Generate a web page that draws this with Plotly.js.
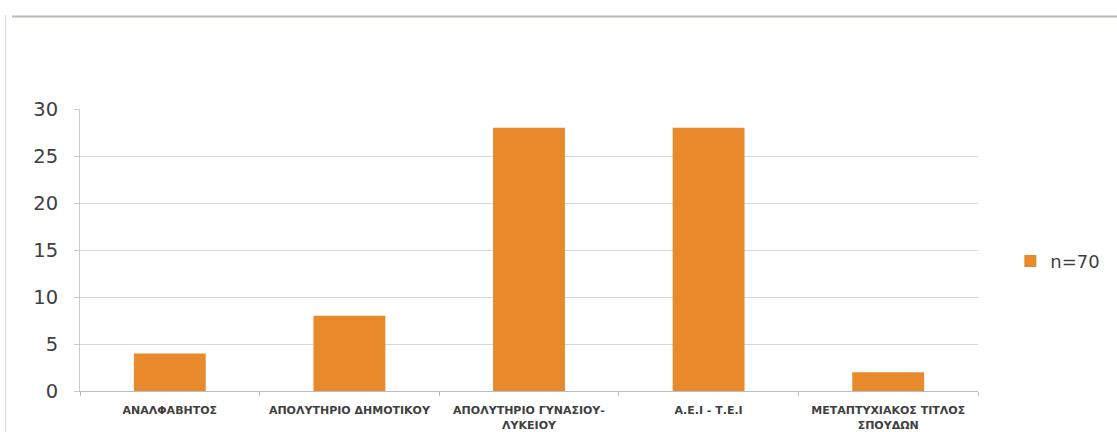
<!DOCTYPE html>
<html>
<head>
<meta charset="utf-8">
<script src="https://cdn.plot.ly/plotly-3.0.1.min.js"></script>
<style>
  html, body { margin: 0; padding: 0; background: #ffffff; }
  #chart { width: 1117px; height: 432px; }
</style>
</head>
<body>
<div id="chart"></div>
<script>
// Education level of respondents (n=70)
const categories = [
  "ΑΝΑΛΦΑΒΗΤΟΣ",
  "ΑΠΟΛΥΤΗΡΙΟ ΔΗΜΟΤΙΚΟΥ",
  "ΑΠΟΛΥΤΗΡΙΟ ΓΥΝΑΣΙΟΥ-<br>ΛΥΚΕΙΟΥ",
  "Α.Ε.Ι - Τ.Ε.Ι",
  "ΜΕΤΑΠΤΥΧΙΑΚΟΣ ΤΙΤΛΟΣ<br>ΣΠΟΥΔΩΝ"
];
const counts = [4, 8, 28, 28, 2];
const seriesName = "n=70";
const yTicks = [0, 5, 10, 15, 20, 25, 30];

const trace = {
  type: "bar",
  x: categories,
  y: counts,
  name: seriesName,
  marker: { color: "#E8892B" },
  width: 0.4,
  showlegend: true,
  hoverinfo: "x+y"
};

const layout = {
  width: 1117,
  height: 432,
  margin: { l: 80, r: 139, t: 109, b: 41, pad: 0 },
  paper_bgcolor: "#ffffff",
  plot_bgcolor: "#ffffff",
  font: { family: "DejaVu Sans, sans-serif", color: "#404040" },
  showlegend: true,
  legend: {
    x: 1.036, xanchor: "left",
    y: 0.46, yanchor: "middle",
    font: { size: 18, color: "#404040", family: "DejaVu Sans, sans-serif" },
    itemwidth: 30
  },
  xaxis: {
    type: "category",
    automargin: false,
    showline: true,
    linecolor: "#b8bcc4",
    linewidth: 1,
    ticks: "outside",
    tickson: "boundaries",
    ticklen: 4,
    tickcolor: "#b8bcc4",
    showgrid: false,
    tickfont: { size: 11, family: "DejaVu Sans, sans-serif", color: "#404040", weight: "bold" },
    tickangle: 0,
    ticklabelstandoff: 9
  },
  yaxis: {
    range: [0, 30],
    tickvals: yTicks,
    automargin: false,
    showline: true,
    linecolor: "#c8ccd2",
    linewidth: 1,
    ticks: "outside",
    ticklen: 5,
    tickcolor: "#c8ccd2",
    showgrid: true,
    gridcolor: "#d4d7dc",
    gridwidth: 1,
    zeroline: false,
    tickfont: { size: 19.5, family: "DejaVu Sans, sans-serif", color: "#404040" },
    ticklabelstandoff: 12
  },
  shapes: [
    // outer frame fragments
    { type: "line", xref: "paper", yref: "paper",
      x0: (12 - 80) / 898, x1: (1117 - 80) / 898,
      y0: (391 - 16.5) / 282, y1: (391 - 16.5) / 282,
      line: { color: "#b6bac2", width: 2 } },
    { type: "line", xref: "paper", yref: "paper",
      x0: (5.5 - 80) / 898, x1: (5.5 - 80) / 898,
      y0: (391 - 15) / 282, y1: (391 - 432) / 282,
      line: { color: "#e2e2e2", width: 1.5 } }
  ]
};

Plotly.newPlot("chart", [trace], layout, { displayModeBar: false, staticPlot: true });
</script>
</body>
</html>
